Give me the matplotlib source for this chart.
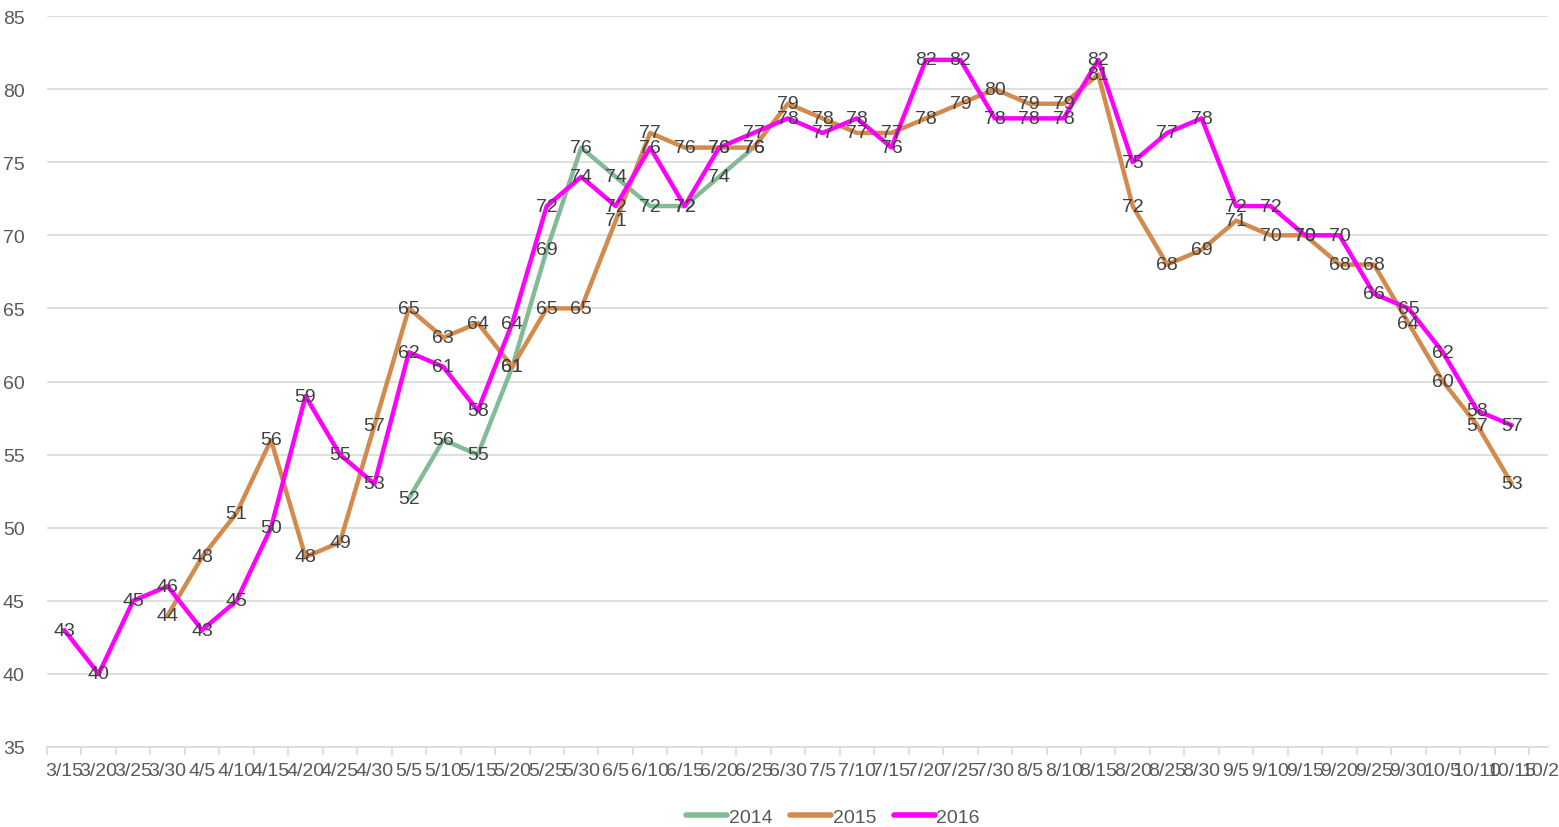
import matplotlib
matplotlib.use("Agg")
import matplotlib.pyplot as plt
import numpy as np

plt.rcParams['font.family'] = ['Liberation Sans Narrow', 'Liberation Sans', 'DejaVu Sans']

categories = ["3/15", "3/20", "3/25", "3/30", "4/5", "4/10", "4/15", "4/20", "4/25", "4/30",
              "5/5", "5/10", "5/15", "5/20", "5/25", "5/30", "6/5", "6/10", "6/15", "6/20",
              "6/25", "6/30", "7/5", "7/10", "7/15", "7/20", "7/25", "7/30", "8/5", "8/10",
              "8/15", "8/20", "8/25", "8/30", "9/5", "9/10", "9/15", "9/20", "9/25", "9/30",
              "10/5", "10/10", "10/15", "10/20"]

N = None
s2014 = [N, N, N, N, N, N, N, N, N, N,
         52, 56, 55, 61, 69, 76, 74, 72, 72, 74,
         76, N, N, N, N, N, N, N, N, N,
         N, N, N, N, N, N, N, N, N, N,
         N, N, N, N]
s2015 = [N, N, N, 44, 48, 51, 56, 48, 49, 57,
         65, 63, 64, 61, 65, 65, 71, 77, 76, 76,
         76, 79, 78, 77, 77, 78, 79, 80, 79, 79,
         81, 72, 68, 69, 71, 70, 70, 68, 68, 64,
         60, 57, 53, N]
s2016 = [43, 40, 45, 46, 43, 45, 50, 59, 55, 53,
         62, 61, 58, 64, 72, 74, 72, 76, 72, 76,
         77, 78, 77, 78, 76, 82, 82, 78, 78, 78,
         82, 75, 77, 78, 72, 72, 70, 70, 66, 65,
         62, 58, 57, N]

series = [("2014", s2014, "#82BC96"), ("2015", s2015, "#D38A4D"), ("2016", s2016, "#FF00FF")]

FS = 14
W, H = 1559, 828
fig = plt.figure(figsize=(W / 100, H / 100), dpi=100)
ax = fig.add_axes([47 / W, 1 - 748 / H, (1548 - 47) / W, (748 - 17) / H])

x = np.arange(len(categories))
handles = []
for name, vals, col in series:
    y = np.array([np.nan if v is None else v for v in vals], dtype=float)
    h, = ax.plot(x, y, color=col, lw=3.2, solid_capstyle='round', solid_joinstyle='round',
                 label=name, zorder=2)
    handles.append(h)

for name, vals, col in series:
    for i, v in enumerate(vals):
        if v is not None:
            ax.text(i, v, str(v), ha='center', va='center', fontsize=FS,
                    color='#404040', zorder=5)

ax.set_xlim(-0.5, 43.05)
ax.set_ylim(35, 85)
ax.set_yticks(np.arange(35, 86, 5))
ax.yaxis.grid(True, color='#D9D9D9', lw=1.2)
ax.set_axisbelow(True)
for sp in ['left', 'right', 'top']:
    ax.spines[sp].set_visible(False)
ax.spines['bottom'].set_color('#D9D9D9')
ax.spines['bottom'].set_linewidth(1.2)

ax.set_xticks(x)
ax.set_xticklabels(categories)
ax.set_xticks(np.arange(-0.5, 43.1, 1), minor=True)
ax.tick_params(axis='x', which='major', length=0, pad=11, labelsize=FS, labelcolor='#595959')
ax.tick_params(axis='x', which='minor', length=6, color='#D9D9D9', width=1.2)
ax.tick_params(axis='y', length=0, pad=16, labelsize=FS, labelcolor='#595959')
for t in ax.get_xticklabels():
    t.set_clip_on(False)

leg = fig.legend(handles=handles, loc='center', bbox_to_anchor=(833 / W, 1 - 818 / H),
                 ncol=3, frameon=False, fontsize=FS, handlelength=2.1,
                 handletextpad=0.1, columnspacing=0.9, labelcolor='#595959')
for lh in leg.get_lines():
    lh.set_linewidth(4)

fig.savefig("out.png", dpi=100)
